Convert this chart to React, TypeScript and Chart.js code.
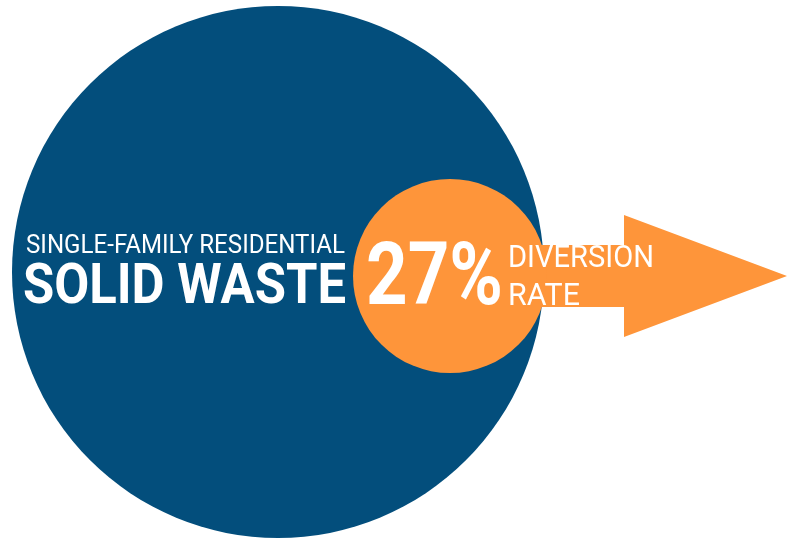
import React, { useEffect, useRef } from "react";
import { Chart, registerables } from "chart.js";

Chart.register(...registerables);

// Circles (chart units == page pixels, y axis reversed)
const circleLabels = ["Single-family residential solid waste", "Diversion rate"];
const circleX = [278, 450];
const circleY = [272, 276];
const circleR = [266, 97];
const circleColors = ["#034E7C", "#FE953A"];

// Arrow outline (upper and lower edges, filled to the arrow axis)
const arrowUpperX = [540, 624, 624, 787];
const arrowUpperY = [245, 245, 215, 276];
const arrowLowerX = [540, 624, 624, 787];
const arrowLowerY = [307, 307, 337, 276];
const arrowAxis = 276;
const arrowColor = "#FE953A";

// Texts
const subtitle = "SINGLE-FAMILY RESIDENTIAL";
const title = "SOLID WASTE";
const diversionRate = 27;
const rateLines = ["DIVERSION", "RATE"];

const textPlugin = {
  id: "infoText",
  afterDatasetsDraw(chart: any) {
    const ctx = chart.ctx as CanvasRenderingContext2D;
    const xs = chart.scales.x;
    const ys = chart.scales.y;
    const draw = (text: string, x0: number, x1: number, baseline: number, font: string) => {
      ctx.save();
      ctx.font = font;
      ctx.fillStyle = "#ffffff";
      ctx.textBaseline = "alphabetic";
      ctx.textAlign = "left";
      const w = ctx.measureText(text).width;
      const px0 = xs.getPixelForValue(x0);
      const px1 = xs.getPixelForValue(x1);
      ctx.translate(px0, ys.getPixelForValue(baseline));
      ctx.scale((px1 - px0) / w, 1);
      ctx.fillText(text, 0, 0);
      ctx.restore();
    };
    draw(subtitle, 26, 345, 253, "400 25px Roboto");
    draw(title, 23, 346, 303, "700 56px Roboto");
    draw(`${diversionRate}%`, 366, 503, 304, "700 88px Roboto");
    draw(rateLines[0], 508, 654, 267, "400 31px Roboto");
    draw(rateLines[1], 508, 580, 305, "400 31px Roboto");
  },
};

export default function App() {
  const ref = useRef<HTMLCanvasElement | null>(null);

  useEffect(() => {
    document.body.style.margin = "0";
    const canvas = ref.current;
    if (!canvas) return;
    const pts = (xs: number[], ys: number[]) => xs.map((x, i) => ({ x, y: ys[i] }));
    const chart = new Chart(canvas, {
      type: "bubble",
      data: {
        datasets: [
          {
            type: "bubble",
            label: circleLabels[0],
            data: [{ x: circleX[0], y: circleY[0], r: circleR[0] }],
            backgroundColor: circleColors[0],
            borderWidth: 0,
            order: 3,
            clip: false,
          } as any,
          {
            type: "line",
            label: "arrow-upper",
            data: pts(arrowUpperX, arrowUpperY),
            backgroundColor: arrowColor,
            borderColor: "rgba(0,0,0,0)",
            borderWidth: 0,
            pointRadius: 0,
            tension: 0,
            fill: { value: arrowAxis },
            order: 2,
            clip: false,
          } as any,
          {
            type: "line",
            label: "arrow-lower",
            data: pts(arrowLowerX, arrowLowerY),
            backgroundColor: arrowColor,
            borderColor: "rgba(0,0,0,0)",
            borderWidth: 0,
            pointRadius: 0,
            tension: 0,
            fill: { value: arrowAxis },
            order: 2,
            clip: false,
          } as any,
          {
            type: "bubble",
            label: circleLabels[1],
            data: [{ x: circleX[1], y: circleY[1], r: circleR[1] }],
            backgroundColor: circleColors[1],
            borderWidth: 0,
            order: 1,
            clip: false,
          } as any,
        ],
      },
      options: {
        responsive: false,
        animation: false,
        events: [],
        layout: { padding: 0, autoPadding: false },
        plugins: { legend: { display: false }, tooltip: { enabled: false } },
        scales: {
          x: { type: "linear", min: 0, max: 787, display: false },
          y: { type: "linear", min: 0, max: 540, reverse: true, display: false },
        },
      } as any,
      plugins: [textPlugin],
    });
    return () => chart.destroy();
  }, []);

  return (
    <div style={{ width: 787, height: 540 }}>
      <canvas ref={ref} width={787} height={540} />
    </div>
  );
}
